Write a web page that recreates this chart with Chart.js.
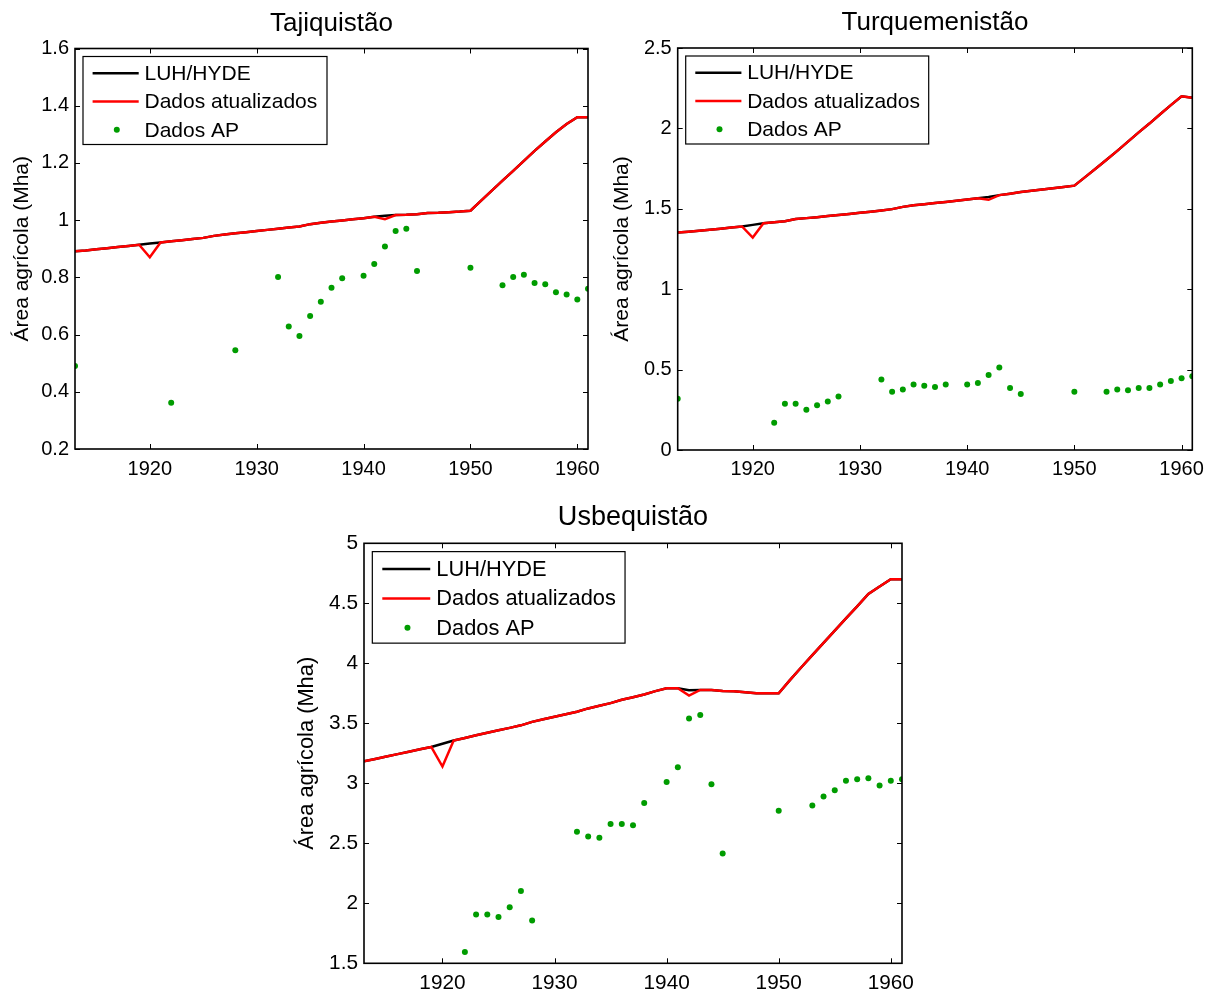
<!DOCTYPE html>
<html>
<head>
<meta charset="utf-8">
<script src="https://cdn.jsdelivr.net/npm/chart.js@4/dist/chart.umd.min.js"></script>
<style>
  html, body { margin: 0; padding: 0; background: #fff; }
  body { width: 1212px; height: 994px; position: relative; overflow: hidden; }
  canvas { position: absolute; }
</style>
</head>
<body>
<canvas id="taj" width="600" height="494" style="left:0;top:0"></canvas>
<canvas id="tur" width="612" height="494" style="left:600px;top:0"></canvas>
<canvas id="usb" width="640" height="500" style="left:286px;top:494px"></canvas>
<script>
// Years of the annual series (1913–1961)
const years = [
  1913, 1914, 1915, 1916, 1917, 1918, 1919, 1920, 1921, 1922,
  1923, 1924, 1925, 1926, 1927, 1928, 1929, 1930, 1931, 1932,
  1933, 1934, 1935, 1936, 1937, 1938, 1939, 1940, 1941, 1942,
  1943, 1944, 1945, 1946, 1947, 1948, 1949, 1950, 1951, 1952,
  1953, 1954, 1955, 1956, 1957, 1958, 1959, 1960, 1961
];
const xTickYears = [1920, 1930, 1940, 1950, 1960];

// Tajiquistão (Mha)
const tajTicks = [0.2, 0.4, 0.6, 0.8, 1, 1.2, 1.4, 1.6];
const tajLuh = [
  0.891, 0.894, 0.898, 0.902, 0.906, 0.910, 0.914, 0.918, 0.922, 0.926,
  0.930, 0.934, 0.938, 0.945, 0.950, 0.954, 0.958, 0.962, 0.966, 0.970,
  0.974, 0.978, 0.986, 0.991, 0.995, 0.999, 1.003, 1.007, 1.012, 1.015,
  1.018, 1.019, 1.021, 1.025, 1.026, 1.028, 1.030, 1.033, 1.068, 1.103,
  1.138, 1.172, 1.207, 1.242, 1.275, 1.307, 1.336, 1.360, 1.360
];
const tajAtual = [
  0.891, 0.894, 0.898, 0.902, 0.906, 0.910, 0.914, 0.870, 0.922, 0.926,
  0.930, 0.934, 0.938, 0.945, 0.950, 0.954, 0.958, 0.962, 0.966, 0.970,
  0.974, 0.978, 0.986, 0.991, 0.995, 0.999, 1.003, 1.007, 1.012, 1.003,
  1.018, 1.019, 1.021, 1.025, 1.026, 1.028, 1.030, 1.033, 1.068, 1.103,
  1.138, 1.172, 1.207, 1.242, 1.275, 1.307, 1.336, 1.360, 1.360
];
const tajAp = [
  0.490, null, null, null, null, null, null, null, null, 0.362,
  null, null, null, null, null, 0.545, null, null, null, 0.801,
  0.628, 0.595, 0.665, 0.715, 0.764, 0.797, null, 0.806, 0.847, 0.908,
  0.962, 0.970, 0.822, null, null, null, null, 0.834, null, null,
  0.772, 0.801, 0.809, 0.780, 0.776, 0.748, 0.740, 0.723, 0.760
];

// Turquemenistão (Mha)
const turTicks = [0, 0.5, 1, 1.5, 2, 2.5];
const turLuh = [
  1.352, 1.358, 1.364, 1.370, 1.376, 1.383, 1.390, 1.400, 1.410, 1.416,
  1.422, 1.436, 1.442, 1.448, 1.455, 1.461, 1.468, 1.475, 1.482, 1.490,
  1.498, 1.512, 1.522, 1.529, 1.536, 1.543, 1.550, 1.558, 1.566, 1.574,
  1.585, 1.594, 1.604, 1.612, 1.620, 1.628, 1.636, 1.644, 1.697, 1.750,
  1.805, 1.860, 1.918, 1.975, 2.030, 2.088, 2.145, 2.200, 2.190
];
const turAtual = [
  1.352, 1.358, 1.364, 1.370, 1.376, 1.383, 1.390, 1.321, 1.410, 1.416,
  1.422, 1.436, 1.442, 1.448, 1.455, 1.461, 1.468, 1.475, 1.482, 1.490,
  1.498, 1.512, 1.522, 1.529, 1.536, 1.543, 1.550, 1.558, 1.566, 1.556,
  1.585, 1.594, 1.604, 1.612, 1.620, 1.628, 1.636, 1.644, 1.697, 1.750,
  1.805, 1.860, 1.918, 1.975, 2.030, 2.088, 2.145, 2.200, 2.190
];
const turAp = [
  0.319, null, null, null, null, null, null, null, null, 0.169,
  0.288, 0.288, 0.250, 0.279, 0.302, 0.333, null, null, null, 0.438,
  0.363, 0.377, 0.408, 0.400, 0.392, 0.408, null, 0.408, 0.417, 0.467,
  0.513, 0.385, 0.348, null, null, null, null, 0.363, null, null,
  0.363, 0.377, 0.371, 0.385, 0.385, 0.408, 0.429, 0.446, 0.458
];

// Usbequistão (Mha)
const usbTicks = [1.5, 2, 2.5, 3, 3.5, 4, 4.5, 5];
const usbLuh = [
  3.183, 3.203, 3.223, 3.243, 3.263, 3.283, 3.303, 3.330, 3.356, 3.378,
  3.400, 3.421, 3.442, 3.462, 3.483, 3.512, 3.534, 3.555, 3.576, 3.596,
  3.624, 3.646, 3.668, 3.696, 3.717, 3.740, 3.768, 3.792, 3.792, 3.776,
  3.778, 3.778, 3.769, 3.767, 3.758, 3.750, 3.750, 3.750, 3.860, 3.965,
  4.068, 4.170, 4.272, 4.375, 4.475, 4.578, 4.640, 4.700, 4.700
];
const usbAtual = [
  3.183, 3.203, 3.223, 3.243, 3.263, 3.283, 3.303, 3.140, 3.356, 3.378,
  3.400, 3.421, 3.442, 3.462, 3.483, 3.512, 3.534, 3.555, 3.576, 3.596,
  3.624, 3.646, 3.668, 3.696, 3.717, 3.740, 3.768, 3.792, 3.792, 3.731,
  3.778, 3.778, 3.769, 3.767, 3.758, 3.750, 3.750, 3.750, 3.860, 3.965,
  4.068, 4.170, 4.272, 4.375, 4.475, 4.578, 4.640, 4.700, 4.700
];
const usbAp = [
  null, null, null, null, null, null, null, null, null, 1.594,
  1.906, 1.906, 1.886, 1.967, 2.103, 1.856, null, null, null, 2.597,
  2.556, 2.547, 2.661, 2.661, 2.650, 2.836, null, 3.011, 3.133, 3.539,
  3.569, 2.992, 2.414, null, null, null, null, 2.772, null, null,
  2.814, 2.889, 2.942, 3.022, 3.033, 3.042, 2.981, 3.022, 3.033
];

const FONT = '"Liberation Sans", Arial, Helvetica, sans-serif';
Chart.defaults.font.family = FONT;
Chart.defaults.color = '#000';

const toPoints = vals => years.map((yr, i) => ({ x: yr, y: vals[i] })).filter(p => p.y !== null);

// Box, inward tick marks, in-plot legend and title in the MATLAB style
const framePlugin = {
  id: 'frame',
  afterDatasetsDraw(chart, args, opts) {
    const { ctx, chartArea: a, scales: { x, y } } = chart;
    const s = opts.scale || 1;
    ctx.save();

    // inward tick marks on all four sides
    ctx.strokeStyle = '#000';
    ctx.lineWidth = 1;
    ctx.beginPath();
    x.ticks.forEach(t => {
      const p = Math.round(x.getPixelForValue(t.value)) + 0.5;
      ctx.moveTo(p, a.bottom); ctx.lineTo(p, a.bottom - 5);
      ctx.moveTo(p, a.top); ctx.lineTo(p, a.top + 5);
    });
    y.ticks.forEach(t => {
      const p = Math.round(y.getPixelForValue(t.value)) + 0.5;
      ctx.moveTo(a.left, p); ctx.lineTo(a.left + 5, p);
      ctx.moveTo(a.right, p); ctx.lineTo(a.right - 5, p);
    });
    ctx.stroke();

    // axes box
    ctx.lineWidth = 1.6;
    ctx.strokeRect(a.left, a.top, a.right - a.left, a.bottom - a.top);

    // legend
    const lx = a.left + 8 * s, ly = a.top + 8 * s;
    const lw = opts.legendW * s, lh = 88 * s;
    ctx.fillStyle = '#fff';
    ctx.fillRect(lx, ly, lw, lh);
    ctx.lineWidth = 1.2;
    ctx.strokeStyle = '#000';
    ctx.strokeRect(lx, ly, lw, lh);
    ctx.font = `${21 * s}px ${FONT}`;
    ctx.textBaseline = 'middle';
    ctx.textAlign = 'left';
    chart.data.datasets.forEach((ds, i) => {
      const cy = ly + (16.7 + 28.3 * i) * s;
      if (ds.showLine === false) {
        ctx.fillStyle = ds.pointBackgroundColor;
        ctx.beginPath();
        ctx.arc(lx + 33.8 * s, cy, ds.pointRadius, 0, Math.PI * 2);
        ctx.fill();
      } else {
        ctx.strokeStyle = ds.borderColor;
        ctx.lineWidth = ds.borderWidth;
        ctx.beginPath();
        ctx.moveTo(lx + 9.6 * s, cy);
        ctx.lineTo(lx + 55.7 * s, cy);
        ctx.stroke();
      }
      ctx.fillStyle = '#000';
      ctx.fillText(ds.label, lx + 61.5 * s, cy + 1);
    });

    // title centred over the plot
    ctx.font = `${26 * s}px ${FONT}`;
    ctx.textAlign = 'center';
    ctx.textBaseline = 'alphabetic';
    ctx.fillStyle = '#000';
    ctx.fillText(opts.title, (a.left + a.right) / 2, a.top - 17.8 * s);

    ctx.restore();
  }
};

function makeChart(id, g) {
  const fs = g.scale;
  return new Chart(document.getElementById(id), {
    type: 'line',
    data: {
      datasets: [
        // the updated series is drawn over LUH/HYDE (lower order = on top)
        { label: 'LUH/HYDE', data: toPoints(g.luh), borderColor: '#000000', borderWidth: 2.5,
          pointRadius: 0, tension: 0, fill: false, order: 2 },
        { label: 'Dados atualizados', data: toPoints(g.atual), borderColor: '#ff0000', borderWidth: 2.5,
          pointRadius: 0, tension: 0, fill: false, order: 1 },
        { label: 'Dados AP', data: toPoints(g.ap), showLine: false, pointRadius: 3,
          pointBackgroundColor: '#009c00', pointBorderWidth: 0, pointHoverRadius: 3,
          borderColor: '#009c00', order: 0 }
      ]
    },
    options: {
      responsive: false,
      animation: false,
      events: [],
      layout: { padding: g.padding },
      plugins: {
        legend: { display: false },
        tooltip: { enabled: false },
        frame: { title: g.title, scale: fs, legendW: g.legendW }
      },
      scales: {
        x: {
          type: 'linear', min: 1913, max: 1961,
          afterBuildTicks: sc => { sc.ticks = xTickYears.map(v => ({ value: v })); },
          afterFit: sc => { sc.height = g.xAxisH; sc.paddingLeft = 0; sc.paddingRight = 0; },
          grid: { display: false, drawTicks: false },
          border: { display: false },
          ticks: { padding: g.xTickPad, autoSkip: false, maxRotation: 0,
                   font: { size: 20 * fs }, color: '#000', callback: v => String(v) }
        },
        y: {
          type: 'linear', min: g.yTicks[0], max: g.yTicks[g.yTicks.length - 1],
          afterBuildTicks: sc => { sc.ticks = g.yTicks.map(v => ({ value: v })); },
          afterFit: sc => { sc.width = g.yAxisW; sc.paddingTop = 0; sc.paddingBottom = 0; },
          grid: { display: false, drawTicks: false },
          border: { display: false },
          ticks: { padding: 6, autoSkip: false, font: { size: 20 * fs }, color: '#000',
                   callback: v => String(+Number(v).toFixed(2)) },
          title: { display: true, text: 'Área agrícola (Mha)', color: '#000',
                   font: { size: 21 * fs }, padding: { top: g.yTitlePad, bottom: 0 } }
        }
      }
    },
    plugins: [framePlugin]
  });
}

makeChart('taj', {
  title: 'Tajiquistão', luh: tajLuh, atual: tajAtual, ap: tajAp, yTicks: tajTicks,
  scale: 1, legendW: 244, yAxisW: 75, xAxisH: 36, xTickPad: 8, yTitlePad: 9.4,
  padding: { left: 0, right: 12, top: 48.5, bottom: 9 }
});
makeChart('tur', {
  title: 'Turquemenistão', luh: turLuh, atual: turAtual, ap: turAp, yTicks: turTicks,
  scale: 1, legendW: 243, yAxisW: 77.7, xAxisH: 36, xTickPad: 7, yTitlePad: 9.4,
  padding: { left: 0, right: 19.7, top: 48, bottom: 8 }
});
makeChart('usb', {
  title: 'Usbequistão', luh: usbLuh, atual: usbAtual, ap: usbAp, yTicks: usbTicks,
  scale: 1.04, legendW: 243, yAxisW: 78, xAxisH: 30, xTickPad: 7, yTitlePad: 7.4,
  padding: { left: 0, right: 24, top: 49.3, bottom: 0.7 }
});
</script>
</body>
</html>
